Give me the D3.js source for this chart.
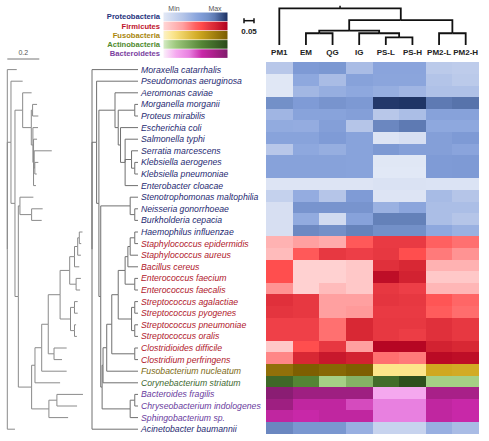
<!DOCTYPE html>
<html><head><meta charset="utf-8">
<script src="https://cdn.jsdelivr.net/npm/d3@7"></script>
<style>body{margin:0;background:#fff}svg{display:block}text{font-family:"Liberation Sans",Arial,sans-serif}</style>
</head><body><svg id="c" width="489" height="441"></svg>
<script>
const species = ["Moraxella catarrhalis","Pseudomonas aeruginosa","Aeromonas caviae","Morganella morganii","Proteus mirabilis","Escherichia coli","Salmonella typhi","Serratia marcescens","Klebsiella aerogenes","Klebsiella pneumoniae","Enterobacter cloacae","Stenotrophomonas maltophilia","Neisseria gonorrhoeae","Burkholderia cepacia","Haemophilus influenzae","Staphylococcus epidermidis","Staphylococcus aureus","Bacillus cereus","Enterococcus faecium","Enterococcus faecalis","Streptococcus agalactiae","Streptococcus pyogenes","Streptococcus pneumoniae","Streptococcus oralis","Clostridioides difficile","Clostridium perfringens","Fusobacterium nucleatum","Corynebacterium striatum","Bacteroides fragilis","Chryseobacterium indologenes","Sphingobacterium sp.","Acinetobacter baumannii"];
const phylum = ["Proteobacteria","Proteobacteria","Proteobacteria","Proteobacteria","Proteobacteria","Proteobacteria","Proteobacteria","Proteobacteria","Proteobacteria","Proteobacteria","Proteobacteria","Proteobacteria","Proteobacteria","Proteobacteria","Proteobacteria","Firmicutes","Firmicutes","Firmicutes","Firmicutes","Firmicutes","Firmicutes","Firmicutes","Firmicutes","Firmicutes","Firmicutes","Firmicutes","Fusobacteria","Actinobacteria","Bacteroidetes","Bacteroidetes","Bacteroidetes","Proteobacteria"];
const samples = ["PM1","EM","QG","IG","PS-L","PS-H","PM2-L","PM2-H"];
// relative abundance (0 = min, 1 = max) per species row, per sample column
const values = [
 [0.28,0.61,0.63,0.36,0.53,0.53,0.26,0.24],
 [0.02,0.50,0.36,0.55,0.52,0.52,0.31,0.26],
 [0.02,0.40,0.46,0.50,0.46,0.41,0.33,0.33],
 [0.70,0.60,0.66,0.62,0.98,0.99,0.80,0.82],
 [0.41,0.54,0.54,0.57,0.28,0.35,0.55,0.55],
 [0.48,0.47,0.57,0.30,0.74,0.80,0.50,0.50],
 [0.54,0.54,0.60,0.54,0.04,0.08,0.57,0.61],
 [0.28,0.50,0.46,0.54,0.62,0.57,0.57,0.53],
 [0.55,0.55,0.55,0.54,0.02,0.02,0.60,0.61],
 [0.55,0.55,0.55,0.54,0.01,0.01,0.60,0.61],
 [0.04,0.04,0.04,0.04,0.06,0.06,0.05,0.05],
 [0.20,0.47,0.30,0.60,0.04,0.04,0.37,0.30],
 [0.08,0.66,0.66,0.66,0.44,0.52,0.35,0.35],
 [0.08,0.48,0.12,0.55,0.77,0.77,0.35,0.30],
 [0.08,0.73,0.70,0.76,0.70,0.70,0.50,0.44],
 [0.20,0.30,0.24,0.53,0.69,0.69,0.50,0.45],
 [0.15,0.53,0.70,0.66,0.70,0.58,0.42,0.34],
 [0.58,0.03,0.03,0.08,0.75,0.80,0.20,0.20],
 [0.58,0.03,0.03,0.08,0.93,0.83,0.08,0.08],
 [0.34,0.03,0.15,0.08,0.70,0.66,0.18,0.18],
 [0.75,0.70,0.30,0.30,0.72,0.70,0.55,0.48],
 [0.72,0.70,0.30,0.32,0.69,0.69,0.52,0.46],
 [0.65,0.65,0.45,0.80,0.70,0.70,0.75,0.70],
 [0.65,0.65,0.45,0.80,0.70,0.67,0.75,0.70],
 [0.08,0.58,0.70,0.30,0.97,0.97,0.83,0.80],
 [0.38,0.80,0.88,0.83,0.45,0.42,0.95,0.93],
 [0.88,0.98,0.93,0.98,0.15,0.15,0.55,0.53],
 [0.80,0.60,0.15,0.33,0.77,0.96,0.15,0.15],
 [0.95,0.85,0.85,0.85,0.20,0.20,0.80,0.80],
 [0.85,0.65,0.65,0.52,0.40,0.40,0.65,0.60],
 [0.65,0.60,0.65,0.65,0.40,0.40,0.65,0.60],
 [0.74,0.64,0.64,0.45,0.18,0.18,0.45,0.36]
];
const phyla = ["Proteobacteria","Firmicutes","Fusobacteria","Actinobacteria","Bacteroidetes"];
const phylaTextColors = ["#25337d","#c0142c","#a8860c","#4f8a2e","#7a3ea0"];
const labelTextColors = ["#1f2b72","#b0182c","#7d6a14","#3f6a32","#6a3c9e"];
const rampStops = [
 [[0,"#e3e9f6"],[0.3,"#b5c5e8"],[0.5,"#8ea8de"],[0.6,"#7f9bd6"],[0.7,"#7390c8"],[0.8,"#5e7ab3"],[1,"#1c3162"]],
 [[0,"#ffd6d6"],[0.3,"#ffa0a0"],[0.5,"#ff6060"],[0.6,"#ff4a4a"],[0.65,"#ef4048"],[0.8,"#d82834"],[1,"#b00020"]],
 [[0,"#fbf1c8"],[0.15,"#fde68a"],[0.55,"#d0a820"],[1,"#7a5c00"]],
 [[0,"#d6ebc6"],[0.15,"#a5cf85"],[0.6,"#548535"],[1,"#2a4a1a"]],
 [[0,"#fbf0fa"],[0.2,"#f5a8ef"],[0.4,"#e880e0"],[0.6,"#c828a8"],[0.8,"#a82088"],[1,"#801c6c"]]
];
// species tree: p = distance from root (substitutions/site), c = cladogram depth (0..1)
const speciesTree = {c:0,p:0,children:[
 {name:"Moraxella catarrhalis",p:0.059},
 {c:0.10,p:0.023,children:[
  {name:"Pseudomonas aeruginosa",p:0.096},
  {c:0.15,p:0.048,children:[
   {c:0.50,p:0.096,children:[
    {name:"Aeromonas caviae",p:0.152},
    {c:0.57,p:0.150,children:[
     {c:0.93,p:0.158,children:[{name:"Morganella morganii",p:0.186},{name:"Proteus mirabilis",p:0.194}]},
     {c:0.62,p:0.160,children:[
      {name:"Escherichia coli",p:0.192},
      {c:0.72,p:0.164,children:[
       {name:"Salmonella typhi",p:0.186},
       {c:0.86,p:0.168,children:[
        {name:"Serratia marcescens",p:0.278},
        {c:0.93,p:0.172,children:[{name:"Klebsiella aerogenes",p:0.194},{name:"Klebsiella pneumoniae",p:0.184}]}
       ]},
       {name:"Enterobacter cloacae",p:0.179}
      ]}
     ]}
    ]}
   ]},
   {c:0.19,p:0.069,children:[
    {c:0.83,p:0.079,children:[
     {name:"Stenotrophomonas maltophilia",p:0.163},
     {c:0.93,p:0.152,children:[{name:"Neisseria gonorrhoeae",p:0.221},{name:"Burkholderia cepacia",p:0.215}]}
    ]},
    {c:0.22,p:0.152,children:[
     {c:0.24,p:0.173,children:[
      {c:0.32,p:0.215,children:[
       {c:0.43,p:0.256,children:[
        {c:0.57,p:0.330,children:[
         {c:0.72,p:0.390,children:[
          {c:0.78,p:0.420,children:[
           {c:0.83,p:0.440,children:[
            {c:0.93,p:0.450,children:[{name:"Haemophilus influenzae",p:0.470},{name:"Staphylococcus epidermidis",p:0.462}]},
            {name:"Staphylococcus aureus",p:0.460}
           ]},
           {name:"Bacillus cereus",p:0.450}
          ]},
          {c:0.93,p:0.430,children:[{name:"Enterococcus faecium",p:0.460},{name:"Enterococcus faecalis",p:0.455}]}
         ]},
         {c:0.86,p:0.395,children:[
          {c:0.93,p:0.420,children:[{name:"Streptococcus agalactiae",p:0.440},{name:"Streptococcus pyogenes",p:0.440}]},
          {c:0.93,p:0.420,children:[{name:"Streptococcus pneumoniae",p:0.430},{name:"Streptococcus oralis",p:0.435}]}
         ]}
        ]},
        {c:0.93,p:0.292,children:[{name:"Clostridioides difficile",p:0.371},{name:"Clostridium perfringens",p:0.342}]}
       ]},
       {name:"Fusobacterium nucleatum",p:0.371}
      ]},
      {name:"Corynebacterium striatum",p:0.330}
     ]},
     {c:0.83,p:0.260,children:[
      {c:0.93,p:0.310,children:[{name:"Bacteroides fragilis",p:0.473},{name:"Chryseobacterium indologenes",p:0.436}]},
      {name:"Sphingobacterium sp.",p:0.380}
     ]}
    ]}
   ]}
  ]}
 ]},
 {name:"Acinetobacter baumannii",p:0.048}
]};
// sample dendrogram: h = merge height
const sampleTree = {h:1.0,children:[
 {name:"PM1"},
 {h:0.68,children:[
  {h:0.39,children:[
   {h:0.32,children:[{name:"EM"},{name:"QG"}]},
   {h:0.32,children:[{name:"IG"},{h:0.21,children:[{name:"PS-L"},{name:"PS-H"}]}]}
  ]},
  {h:0.32,children:[{name:"PM2-L"},{name:"PM2-H"}]}
 ]}
]};

const svg = d3.select("#c");
const x = d3.scaleBand().domain(samples).range([266,479]);
const y = d3.scaleBand().domain(species).range([62.3,433.5]);
const yLab = d3.scaleBand().domain(species).range([63.8,435]);
const ramps = phyla.map((p,i)=>d3.scaleLinear().domain(rampStops[i].map(s=>s[0])).range(rampStops[i].map(s=>s[1])).clamp(true));
const pIdx = p => phyla.indexOf(p);

// heatmap
const cells = [];
species.forEach((s,i)=>samples.forEach((m,j)=>cells.push({s,m,v:values[i][j],ph:phylum[i]})));
svg.append("g").selectAll("rect").data(cells).join("rect")
 .attr("x",d=>x(d.m)).attr("y",d=>y(d.s)).attr("width",x.bandwidth()+0.4).attr("height",y.bandwidth()+0.4)
 .attr("fill",d=>ramps[pIdx(d.ph)](d.v)).attr("shape-rendering","crispEdges");

// species labels
svg.append("g").selectAll("text").data(species).join("text")
 .attr("x",141).attr("y",d=>yLab(d)+yLab.bandwidth()/2).attr("dy","0.35em")
 .attr("font-size",8.7).attr("font-style","italic")
 .attr("fill",(d,i)=>labelTextColors[pIdx(phylum[i])]).text(d=>d);

// species trees
const root = d3.hierarchy(speciesTree);
const leafY = n => yLab(n.data.name)+yLab.bandwidth()/2;
root.eachAfter(n=>{ n.yy = n.children ? (n.children[0].yy + n.children[n.children.length-1].yy)/2 : leafY(n); });
const xc = d3.scaleLinear().domain([0,1]).range([92,138]);
const xp = d3.scaleLinear().domain([0,0.2]).range([7.3,39.3]);
function drawTree(xf, color){
 svg.append("g").attr("fill","none").attr("stroke",color).attr("stroke-width",1)
  .selectAll("path").data(root.descendants().filter(n=>n.parent)).join("path")
  .attr("d",n=>`M${xf(n.parent)},${n.parent.yy}V${n.yy}H${xf(n)}`);
}
drawTree(n=> n.children ? xc(n.data.c) : xc(1), "#707070");
drawTree(n=> xp(n.data.p), "#8a8a8a");
// scale bar 0.2
svg.append("line").attr("x1",xp(0)).attr("x2",xp(0.2)).attr("y1",59).attr("y2",59).attr("stroke","#777");
svg.append("text").attr("x",(xp(0)+xp(0.2))/2).attr("y",55).attr("text-anchor","middle").attr("font-size",7).attr("fill","#555").text("0.2");

// sample dendrogram
const sroot = d3.hierarchy(sampleTree);
sroot.eachAfter(n=>{ n.xx = n.children ? (n.children[0].xx + n.children[n.children.length-1].xx)/2 : x(n.data.name)+x.bandwidth()/2; });
const yh = d3.scaleLinear().domain([0,1]).range([45,8.3]);
const hOf = n => n.children ? n.data.h : 0;
svg.append("g").attr("fill","none").attr("stroke","#111").attr("stroke-width",1.8)
 .selectAll("path").data(sroot.descendants().filter(n=>n.parent)).join("path")
 .attr("d",n=>`M${n.xx},${yh(hOf(n))}V${yh(hOf(n.parent))}H${n.parent.xx}`);
svg.append("line").attr("x1",sroot.xx).attr("x2",sroot.xx).attr("y1",yh(1)).attr("y2",yh(1)-2.5).attr("stroke","#111").attr("stroke-width",1.5);
// sample labels
svg.append("g").selectAll("text").data(samples).join("text")
 .attr("x",d=>x(d)+x.bandwidth()/2).attr("y",52.5).attr("dy","0.35em").attr("text-anchor","middle")
 .attr("font-size",8).attr("font-weight","bold").attr("fill","#222").text(d=>d);
// 0.05 scale bar
const sb = svg.append("g").attr("stroke","#111").attr("stroke-width",1.5);
sb.append("line").attr("x1",244).attr("x2",254).attr("y1",20.7).attr("y2",20.7);
sb.append("line").attr("x1",244).attr("x2",244).attr("y1",18.2).attr("y2",23.2);
sb.append("line").attr("x1",254).attr("x2",254).attr("y1",18.2).attr("y2",23.2);
svg.append("text").attr("x",249).attr("y",31.5).attr("dy","0.35em").attr("text-anchor","middle").attr("font-size",8).attr("font-weight","bold").attr("fill","#222").text("0.05");

// legend
const defs = svg.append("defs");
phyla.forEach((p,i)=>{
 const g = defs.append("linearGradient").attr("id","g"+i);
 d3.range(0,1.0001,0.1).forEach(t=>g.append("stop").attr("offset",t).attr("stop-color",ramps[i](t)));
});
const lg = svg.append("g");
lg.selectAll("rect").data(phyla).join("rect")
 .attr("x",163.5).attr("y",(d,i)=>12.5+i*9.2).attr("width",64).attr("height",8.6)
 .attr("fill",(d,i)=>`url(#g${i})`);
lg.selectAll("text.l").data(phyla).join("text").attr("class","l")
 .attr("x",160).attr("y",(d,i)=>12.5+i*9.2+4.3).attr("dy","0.35em").attr("text-anchor","end")
 .attr("font-size",7.6).attr("font-weight","bold").attr("fill",(d,i)=>phylaTextColors[i]).text(d=>d);
lg.append("text").attr("x",174).attr("y",9).attr("dy","0.35em").attr("text-anchor","middle").attr("font-size",7).attr("fill","#555").text("Min");
lg.append("text").attr("x",215).attr("y",9).attr("dy","0.35em").attr("text-anchor","middle").attr("font-size",7).attr("fill","#555").text("Max");
</script></body></html>
